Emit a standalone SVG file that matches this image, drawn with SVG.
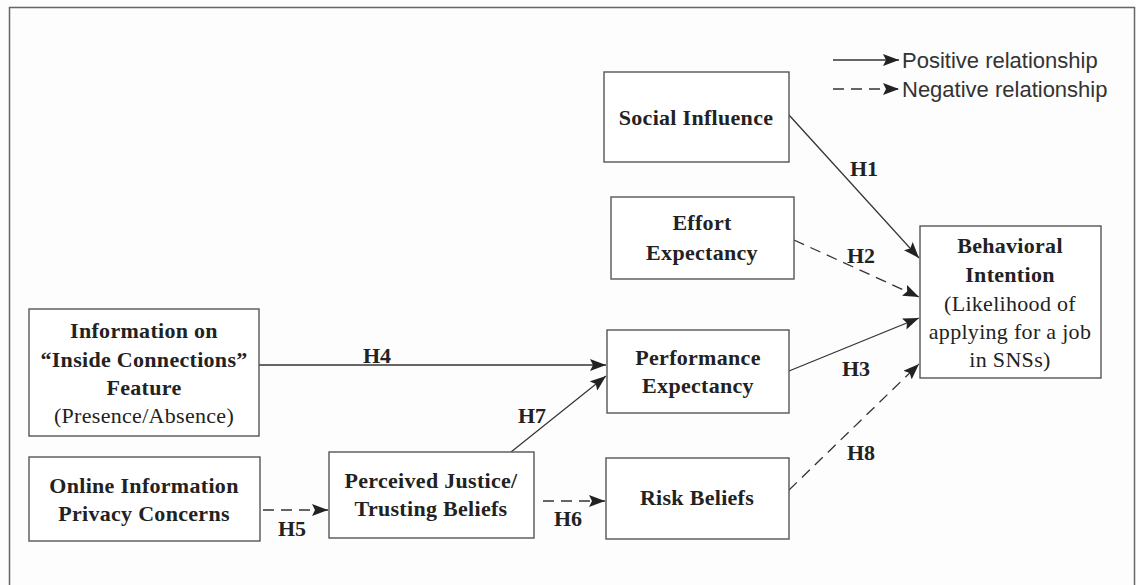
<svg xmlns="http://www.w3.org/2000/svg" width="1136" height="585" viewBox="0 0 1136 585">
  <style>
    .box { fill: #ffffff; stroke: #555555; stroke-width: 1.4; }
    .lbl { font-family: "Liberation Serif", "Times New Roman", serif; font-size: 22px; letter-spacing: 0.3px; fill: #222222; text-anchor: middle; }
    .b { font-weight: bold; }
    .hyp { font-family: "Liberation Serif", "Times New Roman", serif; font-size: 22px; font-weight: bold; fill: #222222; text-anchor: middle; }
    .leg { font-family: "Liberation Sans", Arial, sans-serif; font-size: 22px; fill: #333333; }
    .pos { fill: none; stroke: #333333; stroke-width: 1.3; marker-end: url(#arrow); }
    .neg { fill: none; stroke: #333333; stroke-width: 1.3; stroke-dasharray: 11 7; marker-end: url(#arrow); }
  </style>
  <defs>
    <marker id="arrow" viewBox="0 0 16 12" refX="16" refY="6" markerWidth="16" markerHeight="12" markerUnits="userSpaceOnUse" orient="auto">
      <path d="M0,0 L16,6 L0,12 L3,6 Z" fill="#222222"/>
    </marker>
  </defs>

  <rect width="1136" height="585" fill="#fdfdfd"/>
  <!-- outer frame -->
  <rect x="9.5" y="7.5" width="1125" height="600" fill="none" stroke="#666666" stroke-width="1.5"/>

  <!-- legend -->
  <g id="legend">
    <line class="pos" x1="833" y1="60" x2="899" y2="60"/>
    <text class="leg" x="902" y="68">Positive relationship</text>
    <line class="neg" x1="833" y1="89" x2="899" y2="89"/>
    <text class="leg" x="902" y="97">Negative relationship</text>
  </g>

  <!-- connectors -->
  <g id="connectors">
    <line class="pos" x1="789" y1="115" x2="919" y2="258"/>
    <line class="neg" x1="794" y1="240" x2="919" y2="297"/>
    <line class="pos" x1="789" y1="371" x2="919" y2="318"/>
    <line class="neg" x1="789" y1="490" x2="919" y2="364"/>
    <line class="pos" x1="259" y1="365" x2="606" y2="365"/>
    <line class="pos" x1="511" y1="452" x2="606" y2="376"/>
    <line class="neg" x1="263" y1="510" x2="328" y2="510"/>
    <line class="neg" x1="543" y1="501" x2="605" y2="501"/>
    <text class="hyp" x="864" y="176">H1</text>
    <text class="hyp" x="861" y="263">H2</text>
    <text class="hyp" x="856" y="376">H3</text>
    <text class="hyp" x="377" y="363">H4</text>
    <text class="hyp" x="292" y="536">H5</text>
    <text class="hyp" x="568" y="526">H6</text>
    <text class="hyp" x="532" y="423">H7</text>
    <text class="hyp" x="861" y="460">H8</text>
  </g>

  <!-- nodes -->
  <g id="social-influence">
    <rect class="box" x="604" y="72" width="185" height="90"/>
    <text class="lbl b" x="696" y="125">Social Influence</text>
  </g>
  <g id="effort-expectancy">
    <rect class="box" x="611" y="197" width="183" height="82"/>
    <text class="lbl b" x="702" y="230">Effort</text>
    <text class="lbl b" x="702" y="260">Expectancy</text>
  </g>
  <g id="behavioral-intention">
    <rect class="box" x="920" y="226" width="181" height="152"/>
    <text class="lbl b" x="1010" y="253">Behavioral</text>
    <text class="lbl b" x="1010" y="282">Intention</text>
    <text class="lbl" x="1010" y="311">(Likelihood of</text>
    <text class="lbl" x="1010" y="339">applying for a job</text>
    <text class="lbl" x="1010" y="367">in SNSs)</text>
  </g>
  <g id="inside-connections">
    <rect class="box" x="29" y="309" width="230" height="127"/>
    <text class="lbl b" x="144" y="338">Information on</text>
    <text class="lbl b" x="144" y="367">“Inside Connections”</text>
    <text class="lbl b" x="144" y="395">Feature</text>
    <text class="lbl" x="144" y="423">(Presence/Absence)</text>
  </g>
  <g id="performance-expectancy">
    <rect class="box" x="607" y="330" width="182" height="83"/>
    <text class="lbl b" x="698" y="365">Performance</text>
    <text class="lbl b" x="698" y="393">Expectancy</text>
  </g>
  <g id="privacy-concerns">
    <rect class="box" x="29" y="457" width="231" height="84"/>
    <text class="lbl b" x="144" y="493">Online Information</text>
    <text class="lbl b" x="144" y="521">Privacy Concerns</text>
  </g>
  <g id="justice-trust">
    <rect class="box" x="329" y="452" width="205" height="86"/>
    <text class="lbl b" x="431" y="488">Perceived Justice/</text>
    <text class="lbl b" x="431" y="516">Trusting Beliefs</text>
  </g>
  <g id="risk-beliefs">
    <rect class="box" x="606" y="458" width="183" height="81"/>
    <text class="lbl b" x="697" y="505">Risk Beliefs</text>
  </g>
</svg>
